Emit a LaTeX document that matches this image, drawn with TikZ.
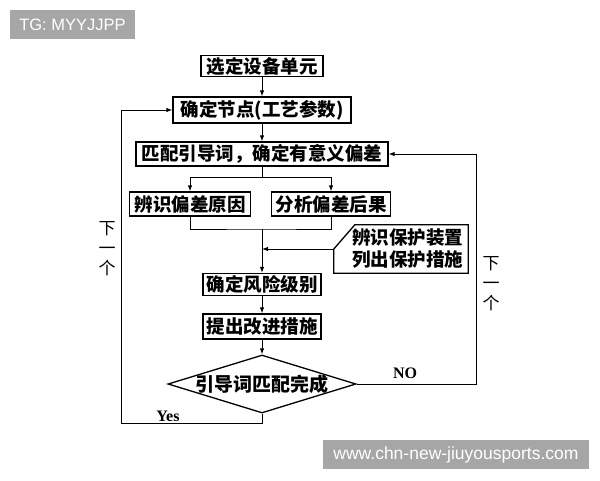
\documentclass[tikz,border=0pt]{standalone}
\usepackage{fontspec}
\setmainfont{Liberation Serif}
\newfontfamily\cjk{Noto Sans CJK SC}
\newfontfamily\wmfont{Liberation Sans}
\usetikzlibrary{arrows.meta,shapes.geometric,positioning}
\definecolor{wmgray}{HTML}{A6A6A6}

\tikzset{
  stepbox/.style={draw, line width=1.3pt, fill=white, inner sep=0pt,
    font=\cjk\bfseries\fontsize{18.5}{20}\selectfont},
  link/.style={line width=1pt, -{Latex[length=6pt,width=4.5pt]}},
  plain/.style={line width=1pt},
  nextlbl/.style={align=center, inner sep=0pt, font=\cjk\fontsize{17}{20}\selectfont},
  answer/.style={inner sep=0pt, font=\bfseries\fontsize{16}{16}\selectfont},
  wmark/.style={fill=wmgray, text=white, inner sep=0pt,
    font=\wmfont\fontsize{16.5}{16.5}\selectfont}
}

\begin{document}
\begin{tikzpicture}[x=1pt,y=-1pt]

\useasboundingbox (0,0) rectangle (600,480);

% main column
\node[stepbox, minimum width=122pt, minimum height=21pt] (unit)  at (262,66)  {选定设备单元};
\node[stepbox, minimum width=178pt, minimum height=26pt] (point) at (262,110) {确定节点(工艺参数)};
\node[stepbox, minimum width=252pt, minimum height=24pt] (match) at (262,154) {匹配引导词，确定有意义偏差};

\node[stepbox, minimum width=121pt, minimum height=24pt] (cause)  at (190,204) {辨识偏差原因};
\node[stepbox, minimum width=119pt, minimum height=24pt] (effect) at (331,204) {分析偏差后果};

\node[stepbox, minimum width=118pt, minimum height=22pt] (risk)    at (262,284.5) {确定风险级别};
\node[stepbox, minimum width=118pt, minimum height=25pt] (improve) at (262,326.5) {提出改进措施};

\node[stepbox, shape=diamond, aspect=3.2, inner sep=-2pt,
      minimum width=188pt, minimum height=58pt,
      font=\cjk\bfseries\fontsize{19}{20}\selectfont] (done) at (262,384) {引导词匹配完成};

% protection box, cut corner
\node[inner xsep=5pt, inner ysep=0pt, text width=124pt, align=right, minimum height=48pt,
      font=\cjk\bfseries\fontsize{18.5}{22}\selectfont] (prot) at (401,249) {辨识保护装置\\列出保护措施};
\draw[line width=1.3pt] ([xshift=21pt]prot.north west) -- (prot.north east) -- (prot.south east)
   -- (prot.south west) -- (prot.west) -- cycle;

% turning points
\coordinate (fork) at (262,177);
\coordinate (join) at (262,229);
\coordinate (noturn) at (476,384);
\coordinate (yesturn) at (121,423);

\draw[link] (unit) -- (point);
\draw[link] (point) -- (match);
\draw[plain] (match.south) -- (fork);
\draw[link] (fork) -| (cause.north);
\draw[link] (fork) -| (effect.north);
\draw[plain] (cause.south) |- (join) -| (effect.south);
\draw[link] (join) -- (risk.north);
\draw[link] (prot.west) -- (prot.west -| risk.north);
\draw[link] (risk) -- (improve);
\draw[link] (improve) -- (done.north);

% loops back
\draw[link] (done.east) -- (noturn) |- (match.east);
\draw[link] (done.south) |- (yesturn) |- (point.west);

\node[answer] (no)  at (405,373) {NO};
\node[answer] (yes) at (168,416) {Yes};

\node[nextlbl] (nextl) at (107,249) {下\\一\\个};
\node[nextlbl] (nextr) at (491,284) {下\\一\\个};

% marks
\node[wmark, minimum width=125pt, minimum height=29pt] (tg)  at (72.5,24.5) {TG: MYYJJPP};
\node[wmark, minimum width=266pt, minimum height=29pt, font=\wmfont\fontsize{17.5}{17.5}\selectfont] (web) at (456,454.5) {www.chn-new-jiuyousports.com};

\end{tikzpicture}
\end{document}
